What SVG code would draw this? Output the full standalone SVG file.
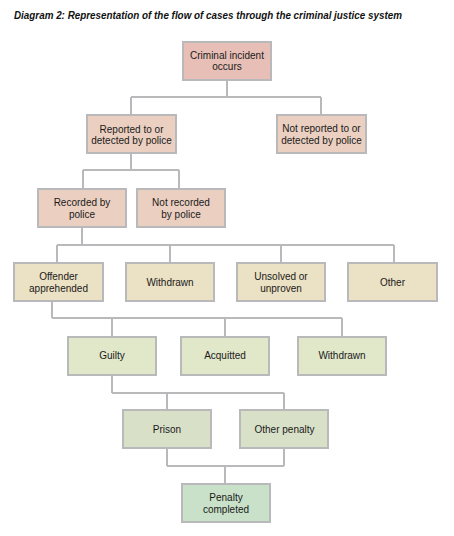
<svg xmlns="http://www.w3.org/2000/svg" width="454" height="536" viewBox="0 0 454 536">
<style>
.b{stroke:#b9b9bb;stroke-width:2}
.t{font-family:"Liberation Sans",Arial,sans-serif;font-size:10px;fill:#1a1a1a;text-anchor:middle}
.c{fill:none;stroke:#b9b9bb;stroke-width:2}
.title{font-family:"Liberation Sans",Arial,sans-serif;font-size:10px;font-weight:bold;font-style:italic;fill:#111}
</style>
<rect width="454" height="536" fill="#ffffff"/>
<text class="title" x="14" y="19" textLength="388" lengthAdjust="spacingAndGlyphs">Diagram 2: Representation of the flow of cases through the criminal justice system</text>
<g id="connectors">
<path class="c" d="M227,81V97M131,97H321M131,97V114M321,97V114"/>
<path class="c" d="M131,154V170M83,170H179M83,170V188M179,170V188"/>
<path class="c" d="M82,228V245M57,245H394M57,245V262M170,245V262M281,245V262M394,245V262"/>
<path class="c" d="M52,302V318M52,318H342M112,318V336M225,318V336M342,318V336"/>
<path class="c" d="M112,376V393M112,393H284M167,393V409M284,393V409"/>
<path class="c" d="M167,449V466M284,449V466M167,466H284M225,466V483"/>
</g>
<g id="n1"><rect class="b" x="183" y="42" width="88" height="38" fill="#e8bfb6"/><text class="t" x="227" y="58.5">Criminal incident</text><text class="t" x="227" y="70">occurs</text></g>
<g id="n2"><rect class="b" x="87" y="115" width="89" height="38" fill="#ebd0c1"/><text class="t" x="131.5" y="132.5">Reported to or</text><text class="t" x="131.5" y="144">detected by police</text></g>
<g id="n3"><rect class="b" x="277" y="115" width="89" height="38" fill="#ebd0c1"/><text class="t" x="321.5" y="132">Not reported to or</text><text class="t" x="321.5" y="143.5">detected by police</text></g>
<g id="n4"><rect class="b" x="38" y="189" width="88" height="38" fill="#ebd0c1"/><text class="t" x="82" y="206">Recorded by</text><text class="t" x="82" y="217.5">police</text></g>
<g id="n5"><rect class="b" x="137" y="189" width="88" height="38" fill="#ebd0c1"/><text class="t" x="181" y="206">Not recorded</text><text class="t" x="181" y="217.5">by police</text></g>
<g id="n6"><rect class="b" x="14" y="263" width="89" height="38" fill="#ebe1c4"/><text class="t" x="58.5" y="280">Offender</text><text class="t" x="58.5" y="291.5">apprehended</text></g>
<g id="n7"><rect class="b" x="126" y="263" width="88" height="38" fill="#ebe1c4"/><text class="t" x="170" y="285.5">Withdrawn</text></g>
<g id="n8"><rect class="b" x="237" y="263" width="88" height="38" fill="#ebe1c4"/><text class="t" x="281" y="280">Unsolved or</text><text class="t" x="281" y="291.5">unproven</text></g>
<g id="n9"><rect class="b" x="348" y="263" width="89" height="38" fill="#ebe1c4"/><text class="t" x="392.5" y="285.5">Other</text></g>
<g id="n10"><rect class="b" x="68" y="337" width="88" height="38" fill="#e1e7c9"/><text class="t" x="112" y="359">Guilty</text></g>
<g id="n11"><rect class="b" x="181" y="337" width="88" height="38" fill="#e1e7c9"/><text class="t" x="225" y="359">Acquitted</text></g>
<g id="n12"><rect class="b" x="298" y="337" width="88" height="38" fill="#e1e7c9"/><text class="t" x="342" y="359">Withdrawn</text></g>
<g id="n13"><rect class="b" x="123" y="410" width="88" height="38" fill="#d9e0c8"/><text class="t" x="167" y="432.5">Prison</text></g>
<g id="n14"><rect class="b" x="240" y="410" width="88" height="38" fill="#d9e0c8"/><text class="t" x="284.5" y="432.5">Other penalty</text></g>
<g id="n15"><rect class="b" x="182" y="484" width="88" height="38" fill="#c8e1c8"/><text class="t" x="226" y="501">Penalty</text><text class="t" x="226" y="512.5">completed</text></g>
</svg>
